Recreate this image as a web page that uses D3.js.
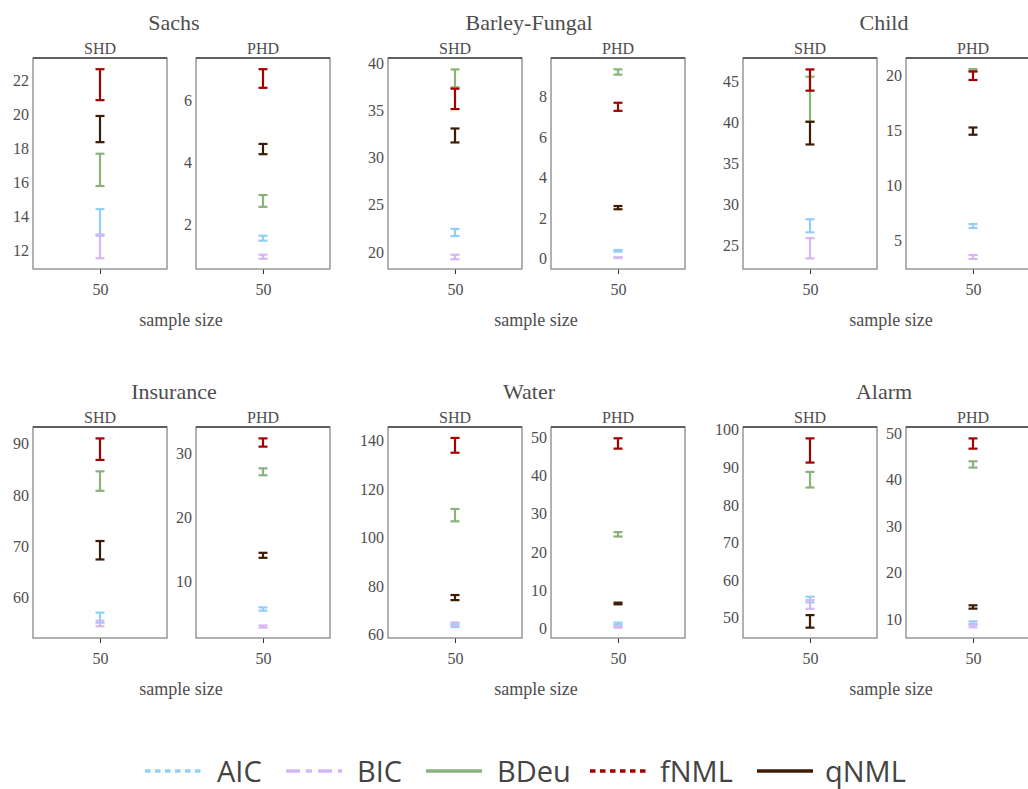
<!DOCTYPE html>
<html>
<head>
<meta charset="utf-8">
<script src="https://cdn.jsdelivr.net/npm/d3@7"></script>
<style>
    body { margin: 0; background: #fff; }
</style>
</head>
<body>
<svg id="chart"></svg>
<script>
//DATA
var datasets = ['Sachs', 'Barley-Fungal', 'Child', 'Insurance', 'Water', 'Alarm'];
var metrics = ['SHD', 'PHD'];
var methods = ['AIC', 'BIC', 'BDeu', 'fNML', 'qNML'];
var sampleSizes = [50];

//mean and half-width of error bar, per dataset, in method order
var shdMean = [
    [13.62, 12.21, 16.71, 21.72, 19.11],
    [22.07, 19.47, 38.4, 36.23, 32.35],
    [27.35, 24.6, 42.85, 45.2, 38.7],
    [56.05, 54.9, 82.7, 88.93, 69.2],
    [63.7, 64.3, 109.2, 137.95, 75.25],
    [54.8, 53.5, 86.7, 94.47, 49.0]
];
var shdErr = [
    [0.78, 0.70, 0.95, 0.91, 0.77],
    [0.38, 0.24, 0.95, 1.08, 0.74],
    [0.8, 1.24, 2.76, 1.3, 1.39],
    [0.98, 0.55, 1.9, 2.1, 1.8],
    [0.6, 0.7, 2.55, 3.05, 1.05],
    [0.76, 1.15, 2.08, 3.22, 1.67]
];
var phdMean = [
    [1.55, 0.955, 2.75, 6.69, 4.42],
    [0.39, 0.05, 9.22, 7.5, 2.52],
    [6.27, 3.45, 20.44, 19.94, 14.9],
    [5.76, 3.04, 27.07, 31.62, 14.1],
    [1.3, 0.43, 24.65, 48.4, 6.57],
    [9.2, 8.65, 43.25, 47.74, 12.65]
];
var phdErr = [
    [0.08, 0.065, 0.19, 0.30, 0.165],
    [0.04, 0.02, 0.13, 0.2, 0.08],
    [0.18, 0.18, 0.1, 0.39, 0.33],
    [0.26, 0.16, 0.54, 0.64, 0.39],
    [0.27, 0.17, 0.58, 1.35, 0.22],
    [0.36, 0.36, 0.67, 1.1, 0.36]
];

//axis domains and tick values
var shdRange = [[10.88, 23.29], [18.2, 40.56], [22.06, 47.9], [52.07, 93.26], [58.6, 145.5], [44.58, 100.72]];
var phdRange = [[0.56, 7.35], [-0.51, 9.91], [2.36, 21.55], [1.26, 34.03], [-2.45, 52.7], [5.99, 51.29]];
var shdTicks = [[12, 14, 16, 18, 20, 22], [20, 25, 30, 35, 40], [25, 30, 35, 40, 45], [60, 70, 80, 90], [60, 80, 100, 120, 140], [50, 60, 70, 80, 90, 100]];
var phdTicks = [[2, 4, 6], [0, 2, 4, 6, 8], [5, 10, 15, 20], [10, 20, 30], [0, 10, 20, 30, 40, 50], [10, 20, 30, 40, 50]];

//styles
var colors = {AIC: '#92cff7', BIC: '#d5b6f5', BDeu: '#8ab27b', fNML: '#a30000', qNML: '#3d1c06'};
var dashes = {AIC: '5.5,4.5', BIC: '14,6,6,6', BDeu: null, fNML: '5.5,4.5', qNML: null};
var serif = '"Liberation Serif", "Times New Roman", Times, "DejaVu Serif", serif',
    textColor = '#4d4d4d';

//chart parameters
var svg = d3.select('#chart')
    .attr('width', 1028)
    .attr('height', 789);

var groupWidth = 355,
    panelLeft = [33, 196],
    panelWidth = 134,
    panelHeight = 211,
    rowTop = 58,
    rowShift = 369;

//serif text helper
function styleSerif(sel, size) {
    return sel.attr('font-family', serif)
        .style('font-family', serif)
        .style('font-size', size + 'px')
        .attr('fill', textColor);
}

//draw one panel
function drawPanel(g, mean, err, range, ticks) {
    var xScale = d3.scalePoint().domain(sampleSizes).range([0, panelWidth]).padding(0.5),
        yScale = d3.scaleLinear().domain(range).range([panelHeight, 0]);

    //y axis labels, no tick marks
    var yAxis = g.append('g')
        .call(d3.axisLeft(yScale).tickValues(ticks).tickFormat(d3.format('d')).tickSize(0).tickPadding(4));
    yAxis.select('.domain').remove();
    styleSerif(yAxis.selectAll('text'), 16);

    //x axis
    var xAxis = g.append('g')
        .attr('transform', 'translate(0,' + panelHeight + ')')
        .call(d3.axisBottom(xScale).tickSize(5).tickPadding(10));
    xAxis.select('.domain').remove();
    xAxis.selectAll('line').attr('stroke', '#333');
    styleSerif(xAxis.selectAll('text'), 16);

    //panel border
    g.append('rect')
        .attr('width', panelWidth)
        .attr('height', panelHeight)
        .attr('fill', 'none')
        .attr('stroke', '#888')
        .attr('stroke-width', 1.3);
    g.append('line')
        .attr('x1', 0).attr('x2', panelWidth)
        .attr('stroke', '#444')
        .attr('stroke-width', 1.3);

    //error bars
    var rows = methods.map((m, i) => ({method: m, n: sampleSizes[0], lo: mean[i] - err[i], hi: mean[i] + err[i]}));
    var bar = g.selectAll('.errbar').data(rows)
        .enter().append('g')
            .attr('class', 'errbar')
            .attr('stroke', d => colors[d.method])
            .attr('stroke-width', 2.2);
    bar.append('line')
        .attr('x1', d => xScale(d.n)).attr('x2', d => xScale(d.n))
        .attr('y1', d => yScale(d.lo)).attr('y2', d => yScale(d.hi));
    bar.append('line')
        .attr('x1', d => xScale(d.n) - 4.5).attr('x2', d => xScale(d.n) + 4.5)
        .attr('y1', d => yScale(d.lo)).attr('y2', d => yScale(d.lo));
    bar.append('line')
        .attr('x1', d => xScale(d.n) - 4.5).attr('x2', d => xScale(d.n) + 4.5)
        .attr('y1', d => yScale(d.hi)).attr('y2', d => yScale(d.hi));
}

//draw all groups
datasets.forEach((name, k) => {
    var col = k % 3,
        row = Math.floor(k / 3);
    var group = svg.append('g')
        .attr('transform', 'translate(' + (col * groupWidth) + ',' + (row * rowShift) + ')');

    //dataset title
    styleSerif(group.append('text'), 22)
        .attr('x', 174)
        .attr('y', 29.5)
        .attr('text-anchor', 'middle')
        .text(name);

    //x axis label
    styleSerif(group.append('text'), 18)
        .attr('x', 181)
        .attr('y', 326)
        .attr('text-anchor', 'middle')
        .text('sample size');

    metrics.forEach((metric, j) => {
        var panel = group.append('g')
            .attr('transform', 'translate(' + panelLeft[j] + ',' + rowTop + ')');
        styleSerif(panel.append('text'), 16)
            .attr('x', panelWidth / 2)
            .attr('y', -4)
            .attr('text-anchor', 'middle')
            .text(metric);
        if (metric === 'SHD') drawPanel(panel, shdMean[k], shdErr[k], shdRange[k], shdTicks[k]);
        else drawPanel(panel, phdMean[k], phdErr[k], phdRange[k], phdTicks[k]);
    });
});

//legend
var legendX = [145, 286, 426, 590, 757],
    legendTextX = [217, 357, 497, 660, 825];
var legend = svg.append('g').attr('class', 'legend');
methods.forEach((m, i) => {
    legend.append('line')
        .attr('x1', legendX[i]).attr('x2', legendX[i] + 56)
        .attr('y1', 771).attr('y2', 771)
        .attr('stroke', colors[m])
        .attr('stroke-width', 3.6)
        .attr('stroke-dasharray', dashes[m]);
    legend.append('text')
        .attr('x', legendTextX[i])
        .attr('y', 782)
        .style('font-family', '"Open Sans", "Noto Sans", sans-serif')
        .style('font-size', '29px')
        .attr('fill', '#444')
        .text(m);
});
</script>
</body>
</html>
